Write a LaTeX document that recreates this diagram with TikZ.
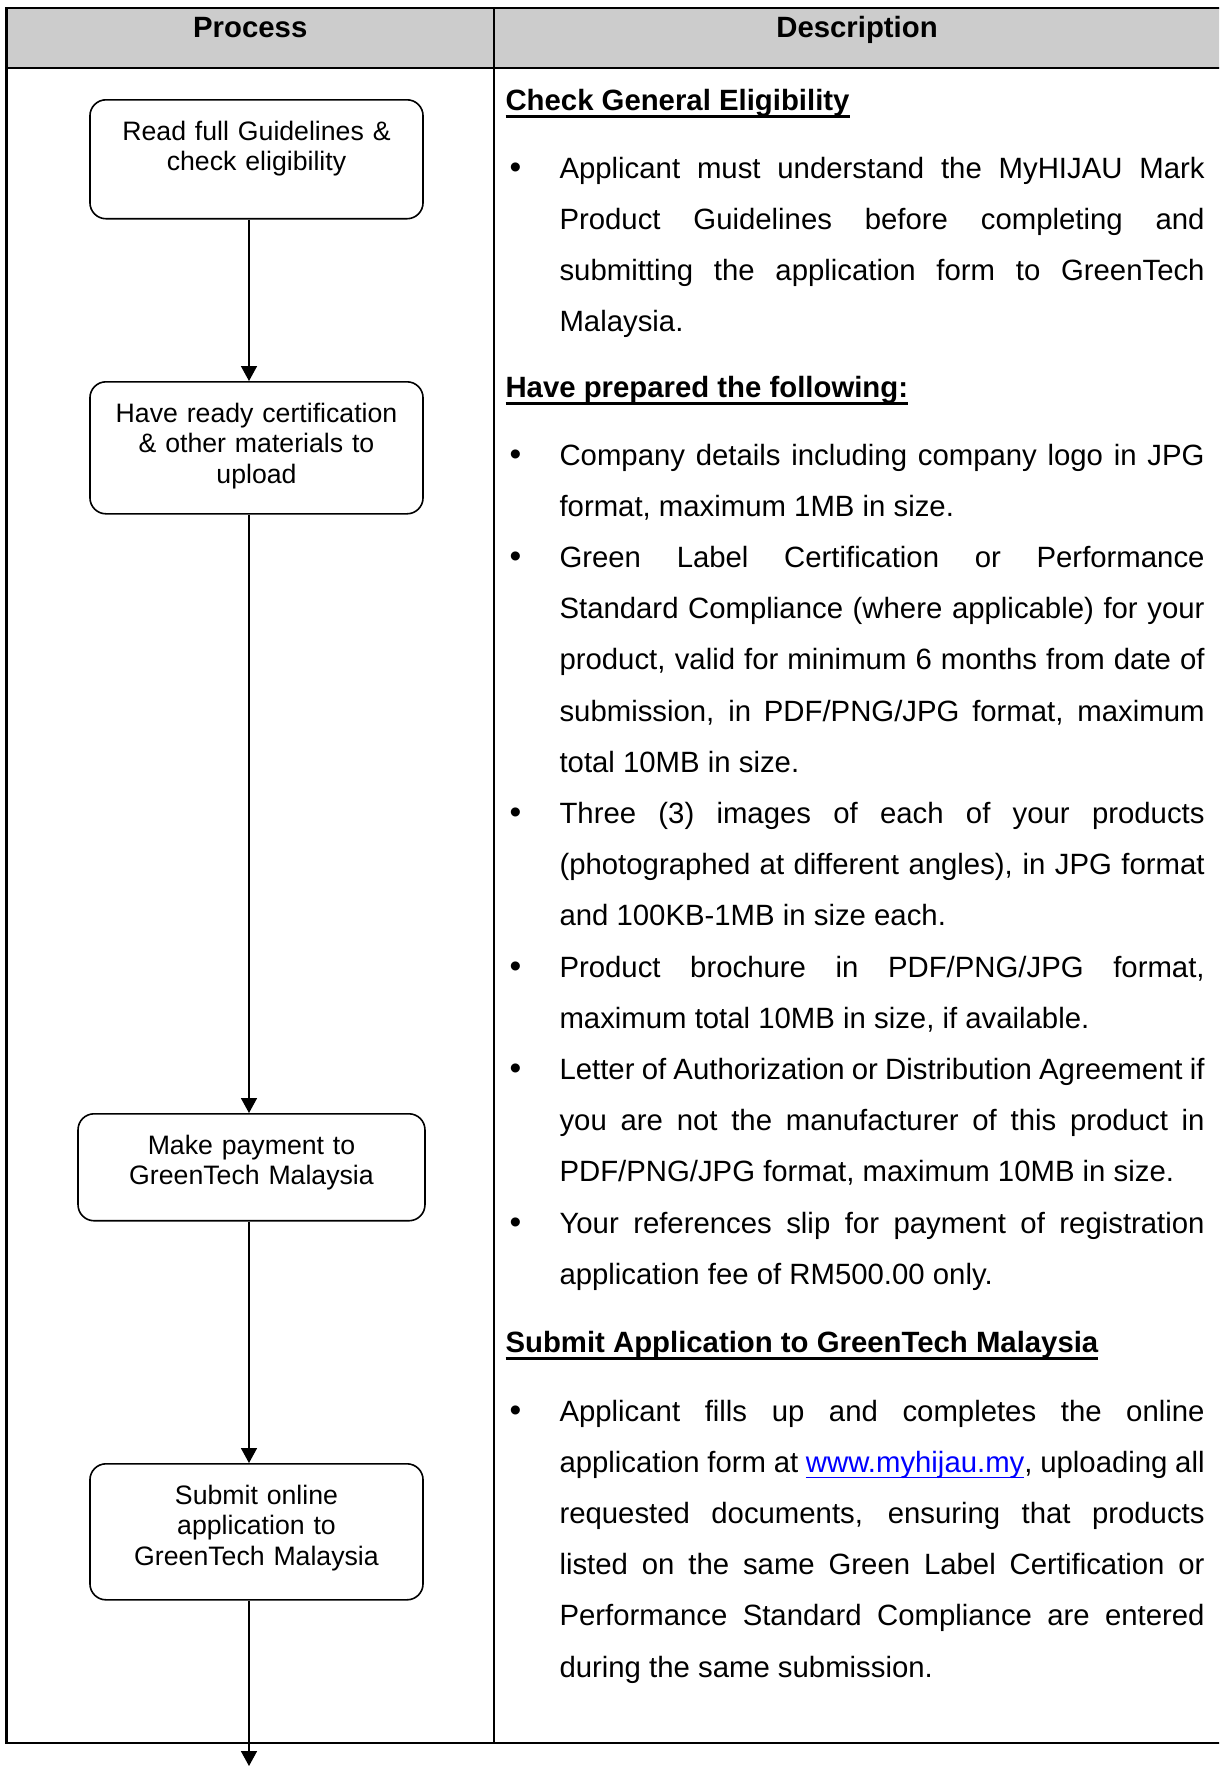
\documentclass[tikz,border=0pt]{standalone}
\usepackage{fontspec}
\setmainfont{Liberation Sans}
\usetikzlibrary{arrows.meta}
\tikzset{>={Triangle[width=6pt,length=5.6pt]}}
\definecolor{headgray}{HTML}{CCCCCC}
\definecolor{linkblue}{HTML}{0000FF}
\newcommand\ulhead[1]{\setbox0\hbox{#1}\rlap{\rule[-3.1pt]{\wd0}{1.2pt}}\box0}
\newcommand\weblink[1]{{\setbox0\hbox{\textcolor{linkblue}{#1}}%
  \rlap{\textcolor{linkblue}{\rule[-2.2pt]{\wd0}{0.5pt}}}\box0}}
\newcommand\itembullet{\llap{{\fontsize{12.5}{12.5}\selectfont\textbullet}\hspace{14.3pt}}}
\hbadness=10000

\begin{document}
\begin{tikzpicture}[x=0.375pt, y=-0.375pt,
    tableline/.style={line width=0.85pt},
    stage/.style={draw, line width=0.6pt, rounded corners=6pt, anchor=north, inner sep=0pt,
      align=center, text height=15.2pt, font=\fontsize{10}{11.4}\selectfont},
    flow/.style={->, line width=0.5pt},
    colhead/.style={anchor=base, inner sep=0pt, font=\fontsize{11}{13}\selectfont\bfseries},
    heading/.style={anchor=base west, inner sep=0pt, font=\fontsize{11}{19.2}\selectfont\bfseries},
    item/.style={anchor=base west, inner sep=0pt, text width=241.9pt, align=justify,
      font=\fontsize{11}{19.2}\selectfont}]
  \useasboundingbox (0,0) rectangle (1219,1767);
  \clip (0,0) rectangle (1219,1767);

  % table
  \fill[headgray] (6.5,8) rectangle (1222,68);
  \draw[tableline] (6.5,8) rectangle (1222,1743);
  \draw[tableline] (6.5,68) -- (1222,68);
  \draw[tableline] (494,8) -- (494,1743);
  \node[colhead] (hproc) at (250.25,37) {Process};
  \node[colhead] (hdesc) at (857,37) {Description};

  % process column
  \coordinate (spine) at (249,0);
  \node[stage, text width=124.9pt, text depth=29.4pt] (read) at (256.5,99)
    {Read full Guidelines \&\\check eligibility};
  \node[stage, text width=124.9pt, text depth=34.3pt] (ready) at (256.5,381)
    {Have ready certification\\\& other materials to\\upload};
  \node[stage, text width=130.1pt, text depth=24.9pt] (pay) at (251.5,1113)
    {Make payment to\\GreenTech Malaysia};
  \node[stage, text width=124.9pt, text depth=35.8pt] (submit) at (256.5,1463)
    {Submit online\\application to\\GreenTech Malaysia};
  \coordinate (next) at (249,1766);
  \draw[flow] (read.south -| spine) -- (ready.north -| spine);
  \draw[flow] (ready.south -| spine) -- (pay.north -| spine);
  \draw[flow] (pay.south -| spine) -- (submit.north -| spine);
  \draw[flow] (submit.south -| spine) -- (next);

  % description column
  \node[heading] (heligible) at (505,110) {\ulhead{Check General Eligibility}};
  \node[item] (understand) at (559,178) {\itembullet Applicant must
    understand the MyHIJAU Mark\linebreak Product Guidelines before completing and\linebreak
    submitting the application form to GreenTech\linebreak Malaysia.};
  \node[heading] (hprepare) at (505,397) {\ulhead{Have prepared the following:}};
  \node[item] (company) at (559,465) {\itembullet Company details
    including company logo in JPG\linebreak format, maximum 1MB in size.};
  \node[item] (label) at (559,567.4) {\itembullet Green Label
    Certification or Performance\linebreak Standard Compliance (where applicable) for
    your\linebreak product, valid for minimum 6 months from date of\linebreak submission,
    in PDF/PNG/JPG format, maximum\linebreak total 10MB in size.};
  \node[item] (images) at (559,823.4) {\itembullet Three (3) images
    of each of your products\linebreak (photographed at different angles), in JPG
    format\linebreak and 100KB-1MB in size each.};
  \node[item] (brochure) at (559,977) {\itembullet Product brochure
    in PDF/PNG/JPG format,\linebreak maximum total 10MB in size, if available.};
  \node[item] (letter) at (559,1079.4) {\itembullet Letter of
    Authorization or Distribution Agreement if\linebreak you are not the manufacturer of
    this product in\linebreak PDF/PNG/JPG format, maximum 10MB in size.};
  \node[item] (slip) at (559,1233) {\itembullet Your references slip
    for payment of registration\linebreak application fee of RM500.00 only.};
  \node[heading] (hsubmit) at (505,1352) {\ulhead{Submit Application to GreenTech Malaysia}};
  \node[item] (online) at (559,1421) {\itembullet Applicant fills up
    and completes the online\linebreak application form at \weblink{www.myhijau.my},
    uploading all\linebreak requested documents, ensuring that products\linebreak listed
    on the same Green Label Certification or\linebreak Performance Standard Compliance are
    entered\linebreak during the same submission.};
\end{tikzpicture}
\end{document}
